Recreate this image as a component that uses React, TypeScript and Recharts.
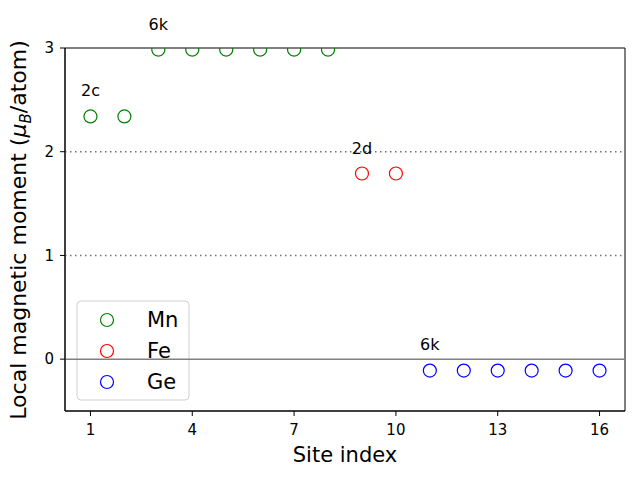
import React from "react";
import {
  ReferenceArea,
  ReferenceDot,
  ReferenceLine,
  Scatter,
  ScatterChart,
  XAxis,
  YAxis,
} from "recharts";

const MN_SITES = [1, 2, 3, 4, 5, 6, 7, 8];
const MN_MOMENTS = [2.34, 2.34, 2.985, 2.985, 2.985, 2.985, 2.985, 2.985];
const FE_SITES = [9, 10];
const FE_MOMENTS = [1.79, 1.79];
const GE_SITES = [11, 12, 13, 14, 15, 16];
const GE_MOMENTS = [-0.11, -0.11, -0.11, -0.11, -0.11, -0.11];

const X_TICKS = [1, 4, 7, 10, 13, 16];
const Y_TICKS = [0, 1, 2, 3];
const GRID_LEVELS = [1, 2];

// Wyckoff labels above each group
const LABEL_TEXT = ["2c", "6k", "2d", "6k"];
const LABEL_X = [1, 3, 9, 11];
const LABEL_Y = [2.58, 3.22, 2.02, 0.13];

const FONT = "DejaVu Sans, sans-serif";
const PLOT_TOP = 48;
const R = 6.5;

const toPoints = (xs: number[], ys: number[]) =>
  xs.map((x, i) => ({ site: x, moment: ys[i] }));

const SERIES = [
  { name: "Mn", color: "#008000", data: toPoints(MN_SITES, MN_MOMENTS) },
  { name: "Fe", color: "#ff0000", data: toPoints(FE_SITES, FE_MOMENTS) },
  { name: "Ge", color: "#0000ff", data: toPoints(GE_SITES, GE_MOMENTS) },
];

// markers get cut at the top frame, like matplotlib does
function OpenCircle(props: any) {
  const { cx, cy, fill } = props;
  if (cx == null || cy == null) return null;
  if (cy - R < PLOT_TOP) {
    const h = PLOT_TOP - cy;
    const dx = Math.sqrt(Math.max(R * R - h * h, 0));
    const large = cy > PLOT_TOP ? 1 : 0;
    const d = `M ${cx - dx} ${PLOT_TOP} A ${R} ${R} 0 ${large} 0 ${cx + dx} ${PLOT_TOP}`;
    return <path d={d} fill="none" stroke={fill} strokeWidth={1.2} />;
  }
  return <circle cx={cx} cy={cy} r={R} fill="none" stroke={fill} strokeWidth={1.2} />;
}

function YLabel() {
  return (
    <text
      x={0}
      y={0}
      transform="translate(26,230) rotate(-90)"
      textAnchor="middle"
      fontFamily={FONT}
      fontSize={22}
      fill="#000"
    >
      Local magnetic moment (
      <tspan fontStyle="italic">μ</tspan>
      <tspan fontStyle="italic" fontSize={15} dy={5}>B</tspan>
      <tspan dy={-5}>/atom)</tspan>
    </text>
  );
}

function LegendBox() {
  return (
    <g>
      <rect x={77} y={301} width={112} height={99} rx={4} fill="#fff" fillOpacity={0.8} stroke="#d0d0d0" />
      {SERIES.map((s, i) => (
        <g key={s.name}>
          <circle cx={107} cy={320 + i * 31} r={R} fill="none" stroke={s.color} strokeWidth={1.2} />
          <text x={147} y={327 + i * 31} fontFamily={FONT} fontSize={21} fill="#000">
            {s.name}
          </text>
        </g>
      ))}
    </g>
  );
}

export default function App() {
  return (
    <div style={{ position: "absolute", left: 0, top: 0, width: 640, height: 480, background: "#fff" }}>
      <ScatterChart width={640} height={480} margin={{ top: PLOT_TOP, right: 15, bottom: 0, left: 0 }}>
        <XAxis
          type="number"
          dataKey="site"
          domain={[0.25, 16.75]}
          ticks={X_TICKS}
          allowDataOverflow
          height={69}
          stroke="#000"
          tickSize={5}
          tick={{ fill: "#000", fontSize: 15, fontFamily: FONT, dy: 6 }}
          label={{ value: "Site index", position: "insideBottom", offset: 18, fill: "#000", fontSize: 21, fontFamily: FONT }}
        />
        <YAxis
          type="number"
          dataKey="moment"
          domain={[-0.5, 3]}
          ticks={Y_TICKS}
          allowDataOverflow
          width={65}
          stroke="#000"
          tickSize={5}
          tick={{ fill: "#000", fontSize: 15, fontFamily: FONT, dx: -4 }}
          label={<YLabel />}
        />
        {GRID_LEVELS.map((v) => (
          <ReferenceLine key={v} y={v} stroke="#707070" strokeWidth={1.5} strokeDasharray="1.5 3.5" />
        ))}
        <ReferenceLine y={0} stroke="#808080" strokeWidth={1.5} />
        <ReferenceArea x1={0.25} x2={16.75} y1={-0.5} y2={3} fill="none" stroke="#000" strokeWidth={1} />
        {SERIES.map((s) => (
          <Scatter
            key={s.name}
            name={s.name}
            data={s.data}
            fill={s.color}
            shape={<OpenCircle />}
            isAnimationActive={false}
          />
        ))}
        {LABEL_TEXT.map((t, i) => (
          <ReferenceDot
            key={i}
            x={LABEL_X[i]}
            y={LABEL_Y[i]}
            ifOverflow="visible"
            shape={(p: any) => (
              <text x={p.cx} y={p.cy} textAnchor="middle" dominantBaseline="middle" fontFamily={FONT} fontSize={16} fill="#000">
                {t}
              </text>
            )}
          />
        ))}
        <LegendBox />
      </ScatterChart>
    </div>
  );
}
